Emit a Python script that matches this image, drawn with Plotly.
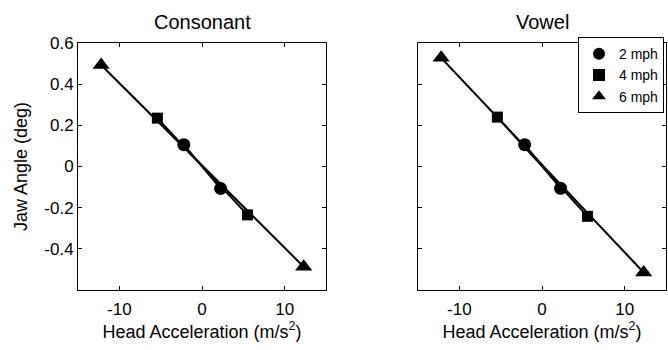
import plotly.graph_objects as go

speeds = ["2 mph", "4 mph", "6 mph"]
symbols = ["circle", "square", "triangle-up"]
msizes = [13, 11, 15]

# Head acceleration (m/s^2) and jaw angle (deg) per speed: [neg, pos]
cons_x = {"2 mph": [-2.2, 2.25], "4 mph": [-5.4, 5.5], "6 mph": [-12.2, 12.3]}
cons_y = {"2 mph": [0.106, -0.107], "4 mph": [0.235, -0.235], "6 mph": [0.493, -0.487]}
vow_x = {"2 mph": [-2.1, 2.25], "4 mph": [-5.4, 5.5], "6 mph": [-12.2, 12.3]}
vow_y = {"2 mph": [0.106, -0.106], "4 mph": [0.24, -0.242], "6 mph": [0.528, -0.515]}

panels = [("Consonant", cons_x, cons_y, "x", "y"), ("Vowel", vow_x, vow_y, "x2", "y2")]

x_ticks = [-10, 0, 10]
x_ticktext = ["-10", "0", "10"]
y_ticks = [-0.4, -0.2, 0, 0.2, 0.4, 0.6]
y_ticktext = ["-0.4", "-0.2", "0", "0.2", "0.4", "0.6"]

FONT = "Liberation Sans, Arial, Helvetica, sans-serif"

fig = go.Figure()
for pi, (name, xs, ys, xa, ya) in enumerate(panels):
    for s in speeds:
        fig.add_trace(go.Scatter(x=xs[s], y=ys[s], mode="lines", line=dict(color="black", width=2),
                                 xaxis=xa, yaxis=ya, showlegend=False, hoverinfo="skip"))
    for s, sym, ms in zip(speeds, symbols, msizes):
        fig.add_trace(go.Scatter(x=xs[s], y=ys[s], mode="markers", name=s,
                                 marker=dict(symbol=sym, size=ms, color="black"),
                                 xaxis=xa, yaxis=ya, showlegend=(pi == 1)))

W, H = 668, 350
ML, MR, MT, MB = 78, 2, 42.5, 60
PW = W - ML - MR
PH = H - MT - MB
dom1 = [0, (326 - ML) / PW]
dom2 = [(418 - ML) / PW, 1]


def px_x(p):
    return (p - ML) / PW


def px_y(p):
    return (H - MB - p) / PH


xtitle = dict(text="Head Acceleration (m/s<sup>2</sup>)", font=dict(size=18, color="black"), standoff=2)
axis_common = dict(range=[-15, 15], tickmode="array", tickvals=x_ticks, ticktext=x_ticktext,
                   ticks="inside", ticklen=4, tickcolor="black", showline=True, linecolor="black",
                   linewidth=1, mirror="ticks", showgrid=False, zeroline=False, ticklabelstandoff=4,
                   tickfont=dict(size=17, color="black"), automargin=False, title=xtitle)
yaxis_common = dict(range=[-0.6, 0.6], tickmode="array", tickvals=y_ticks, ticktext=y_ticktext,
                    ticks="inside", ticklen=4, tickcolor="black", showline=True, linecolor="black",
                    linewidth=1, mirror="ticks", showgrid=False, zeroline=False,
                    tickfont=dict(size=17, color="black"), automargin=False)

fig.update_layout(
    width=W, height=H, margin=dict(l=ML, r=MR, t=MT, b=MB, autoexpand=False),
    paper_bgcolor="white", plot_bgcolor="white",
    font=dict(family=FONT, color="black"),
    xaxis=dict(domain=dom1, anchor="y", **axis_common),
    xaxis2=dict(domain=dom2, anchor="y2", **axis_common),
    yaxis=dict(domain=[0, 1], anchor="x",
               title=dict(text="Jaw Angle (deg)", font=dict(size=18, color="black"), standoff=12),
               **yaxis_common),
    yaxis2=dict(domain=[0, 1], anchor="x2", showticklabels=False, **yaxis_common),
    legend=dict(x=px_x(578), y=px_y(36.7), xanchor="left", yanchor="top", bgcolor="white",
                bordercolor="black", borderwidth=1, font=dict(size=14, color="black"),
                itemsizing="constant", tracegroupgap=0, itemwidth=30),
    showlegend=True,
    annotations=[
        dict(text="Consonant", x=(dom1[0] + dom1[1]) / 2, y=px_y(21), xref="paper", yref="paper",
             showarrow=False, font=dict(size=20, color="black"), xanchor="center", yanchor="middle"),
        dict(text="Vowel", x=(dom2[0] + dom2[1]) / 2, y=px_y(21), xref="paper", yref="paper",
             showarrow=False, font=dict(size=20, color="black"), xanchor="center", yanchor="middle"),
    ],
)

fig.write_html("out.html", config={"displayModeBar": False})

# remove the browser's default 8px body margin so the figure sits at the page origin
with open("out.html", "r", encoding="utf-8") as f:
    html = f.read()
html = html.replace("<head>", "<head><style>html,body{margin:0;padding:0;overflow:hidden;}</style>", 1)
with open("out.html", "w", encoding="utf-8") as f:
    f.write(html)
